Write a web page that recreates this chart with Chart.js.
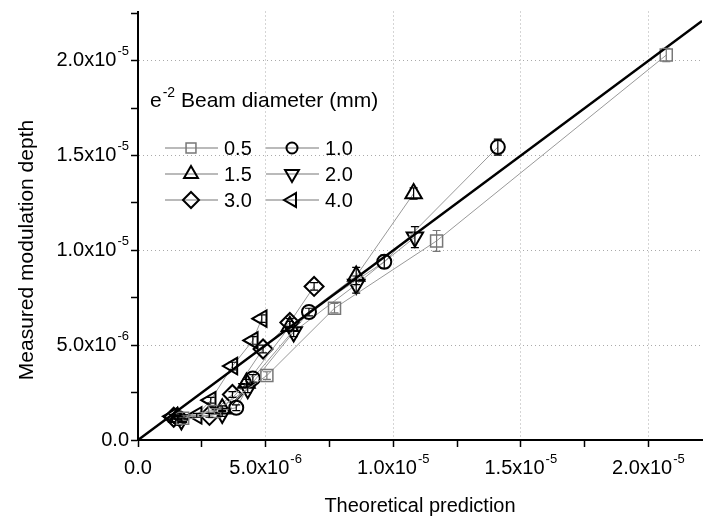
<!DOCTYPE html>
<html>
<head>
<meta charset="utf-8">
<script src="https://cdn.jsdelivr.net/npm/chart.js@4.4.1/dist/chart.umd.min.js"></script>
<style>
html, body { margin: 0; padding: 0; background: #fff; overflow: hidden; }
</style>
</head>
<body>
<canvas id="chart" width="704" height="519"></canvas>
<script>
// ======================== DATA (all values x10^-6) ========================
const beamLabels = ['0.5', '1.0', '1.5', '2.0', '3.0', '4.0'];

const theory05 = [1.75, 3.0, 5.05, 7.7, 11.7, 20.7];
const measured05 = [1.15, 1.5, 3.4, 6.95, 10.5, 20.3];
const err05 = [0.12, 0.15, 0.2, 0.25, 0.55, 0.35];

const theory10 = [1.6, 3.85, 4.5, 6.7, 9.65, 14.1];
const measured10 = [1.15, 1.7, 3.25, 6.75, 9.4, 15.45];
const err10 = [0.1, 0.15, 0.2, 0.2, 0.35, 0.42];

const theory15 = [1.55, 3.3, 4.25, 5.95, 8.55, 10.8];
const measured15 = [1.2, 1.65, 3.0, 6.0, 8.65, 13.0];
const err15 = [0.1, 0.15, 0.2, 0.25, 0.45, 0.3];

const theory20 = [1.7, 3.3, 4.3, 6.1, 8.55, 10.85];
const measured20 = [1.05, 1.4, 2.7, 5.7, 8.2, 10.7];
const err20 = [0.1, 0.15, 0.2, 0.25, 0.45, 0.55];

const theory30 = [1.4, 2.8, 3.7, 4.9, 5.95, 6.9];
const measured30 = [1.2, 1.3, 2.4, 4.8, 6.2, 8.1];
const err30 = [0.1, 0.1, 0.15, 0.2, 0.2, 0.2];

const theory40 = [1.35, 2.3, 2.85, 3.7, 4.5, 4.85];
const measured40 = [1.25, 1.3, 2.1, 3.9, 5.25, 6.4];
const err40 = [0.1, 0.1, 0.15, 0.2, 0.2, 0.2];

const fitX = [0, 22.1];       // y = x reference line
const majorTicks = [0, 5, 10, 15, 20];
const tickMantissa = ['0.0', '5.0x10', '1.0x10', '1.5x10', '2.0x10'];
const tickExponent = ['', '-6', '-5', '-5', '-5'];

// ======================== STYLE ========================
const FONT = "'Liberation Sans', Arial, sans-serif";
const markStyles = ['rect', 'circle', 'triangle', 'triangle', 'rectRot', 'triangle'];
const markRotation = [0, 0, 0, 180, 0, 270];
const markRadius = [8.5, 7, 9.5, 9.5, 9.5, 9.5];
const markColor = ['#777', '#000', '#000', '#000', '#000', '#000'];
const markWidth = [1.5, 2, 2, 2, 2, 2];

const allTheory = [theory05, theory10, theory15, theory20, theory30, theory40];
const allMeasured = [measured05, measured10, measured15, measured20, measured30, measured40];
const allErr = [err05, err10, err15, err20, err30, err40];

const toPoints = (xs, ys) => xs.map((x, i) => ({ x: x, y: ys[i] }));

function gridColor(ctx) {
    const k = Math.round(ctx.tick.value / 2.5);
    return (k % 2 === 0 && k !== 0) ? '#aaa' : 'rgba(0,0,0,0)';
}

const datasets = beamLabels.map((lab, i) => ({
    label: lab,
    data: toPoints(allTheory[i], allMeasured[i]),
    errors: allErr[i],
    showLine: true,
    borderColor: '#999',
    borderWidth: 1,
    pointStyle: markStyles[i],
    rotation: markRotation[i],
    pointRadius: markRadius[i],
    pointBorderColor: markColor[i],
    pointBorderWidth: markWidth[i],
    pointBackgroundColor: 'rgba(0,0,0,0)'
}));
datasets.push({
    label: 'fit',
    data: toPoints(fitX, fitX),
    showLine: true,
    borderColor: '#000',
    borderWidth: 2.5,
    pointRadius: 0,
    order: -1
});

// ======================== PLUGINS ========================
// stretch the plot area to the right edge like the original figure
const fullWidth = {
    id: 'fullWidth',
    afterLayout(chart) {
        const xs = chart.scales.x;
        const right = chart.width - 2;
        xs.right = right;
        xs.width = right - xs.left;
        xs.configure();
        xs._gridLineItems = null;
        xs._labelItems = null;
        chart.chartArea.right = right;
        chart.chartArea.width = right - chart.chartArea.left;
    }
};

const errorBars = {
    id: 'errorBars',
    afterDatasetsDraw(chart) {
        const ctx = chart.ctx, xs = chart.scales.x, ys = chart.scales.y;
        ctx.save();
        chart.data.datasets.forEach(ds => {
            if (!ds.errors) return;
            ctx.strokeStyle = ds.pointBorderColor;
            ctx.lineWidth = 1.2;
            ds.data.forEach((p, j) => {
                const px = xs.getPixelForValue(p.x);
                const top = ys.getPixelForValue(p.y + ds.errors[j]);
                const bot = ys.getPixelForValue(p.y - ds.errors[j]);
                ctx.beginPath();
                ctx.moveTo(px, top); ctx.lineTo(px, bot);
                ctx.moveTo(px - 4, top); ctx.lineTo(px + 4, top);
                ctx.moveTo(px - 4, bot); ctx.lineTo(px + 4, bot);
                ctx.stroke();
            });
        });
        ctx.restore();
    }
};

// tick labels with raised exponents, placed from the scales' own ticks
function drawSci(ctx, idx, x, y, align) {
    const m = tickMantissa[idx], e = tickExponent[idx];
    ctx.font = '20px ' + FONT;
    const mw = ctx.measureText(m).width;
    ctx.font = '13px ' + FONT;
    const ew = e ? ctx.measureText(e).width + 1 : 0;
    const total = mw + ew;
    let left = align === 'right' ? x - total : x - total / 2;
    ctx.font = '20px ' + FONT;
    ctx.fillText(m, left, y);
    if (e) {
        ctx.font = '13px ' + FONT;
        ctx.fillText(e, left + mw + 1, y - 9);
    }
}

const sciTicks = {
    id: 'sciTicks',
    afterDraw(chart) {
        const ctx = chart.ctx, xs = chart.scales.x, ys = chart.scales.y;
        ctx.save();
        ctx.fillStyle = '#000';
        ctx.textAlign = 'left';
        ctx.textBaseline = 'middle';
        xs.ticks.forEach(t => {
            const idx = majorTicks.indexOf(Math.round(t.value * 10) / 10);
            if (idx >= 0) drawSci(ctx, idx, xs.getPixelForValue(t.value), xs.top + 28, 'center');
        });
        ys.ticks.forEach(t => {
            const idx = majorTicks.indexOf(Math.round(t.value * 10) / 10);
            if (idx >= 0) drawSci(ctx, idx, ys.right - 9, ys.getPixelForValue(t.value), 'right');
        });
        // y axis title
        ctx.translate(27, 250);
        ctx.rotate(-Math.PI / 2);
        ctx.textAlign = 'center';
        ctx.font = '21px ' + FONT;
        ctx.fillText('Measured modulation depth', 0, 0);
        ctx.restore();
    }
};

const beamLegend = {
    id: 'beamLegend',
    afterDraw(chart) {
        const ctx = chart.ctx;
        ctx.save();
        ctx.fillStyle = '#000';
        ctx.textBaseline = 'middle';
        ctx.textAlign = 'left';
        // title with superscript
        ctx.font = '21px ' + FONT;
        ctx.fillText('e', 150, 101);
        let w = ctx.measureText('e').width;
        ctx.font = '14px ' + FONT;
        ctx.fillText('-2', 150 + w + 1, 93);
        w += ctx.measureText('-2').width + 1;
        ctx.font = '21px ' + FONT;
        ctx.fillText(' Beam diameter (mm)', 150 + w, 101);

        const colX = [165, 266];
        const rowY = [148, 174, 200];
        chart.data.datasets.forEach((ds, i) => {
            if (!ds.errors) return;
            const x0 = colX[i % 2], y0 = rowY[Math.floor(i / 2)];
            ctx.strokeStyle = '#777';
            ctx.lineWidth = 1.2;
            ctx.beginPath();
            ctx.moveTo(x0, y0); ctx.lineTo(x0 + 53, y0);
            ctx.stroke();
            ctx.strokeStyle = ds.pointBorderColor;
            ctx.lineWidth = ds.pointBorderWidth;
            ctx.fillStyle = 'rgba(0,0,0,0)';
            Chart.helpers.drawPoint(ctx, {
                pointStyle: ds.pointStyle,
                rotation: ds.rotation,
                radius: ds.pointRadius - 1.5,
                borderWidth: ds.pointBorderWidth
            }, x0 + 26, y0);
            ctx.fillStyle = '#000';
            ctx.font = '20px ' + FONT;
            ctx.fillText(ds.label, x0 + 59, y0 + 1);
        });
        ctx.restore();
    }
};

// ======================== CHART ========================
const axisCommon = {
    type: 'linear',
    min: 0,
    border: { display: true, color: '#000', width: 2, dash: [1, 3] },
    grid: { color: gridColor, lineWidth: 1, tickLength: 7, tickColor: '#000', tickWidth: 1.5 },
    ticks: { stepSize: 2.5, includeBounds: false, autoSkip: false, maxRotation: 0,
             font: { family: FONT, size: 18 }, callback: () => '' }
};

new Chart(document.getElementById('chart'), {
    type: 'scatter',
    data: { datasets: datasets },
    options: {
        responsive: false,
        animation: false,
        layout: { padding: { left: 0, right: 2, top: 11, bottom: 0 } },
        plugins: { legend: { display: false }, tooltip: { enabled: false } },
        scales: {
            x: Object.assign({}, axisCommon, {
                max: 22.1,
                title: { display: true, text: 'Theoretical prediction', color: '#000',
                         font: { family: FONT, size: 20 }, padding: { top: 0, bottom: 1 } },
                afterFit(scale) { scale.height = 79; }
            }),
            y: Object.assign({}, axisCommon, {
                max: 22.6,
                afterFit(scale) { scale.width = 138; scale.paddingTop = 0; scale.paddingBottom = 0; }
            })
        }
    },
    plugins: [fullWidth, errorBars, sciTicks, beamLegend]
});
</script>
</body>
</html>
